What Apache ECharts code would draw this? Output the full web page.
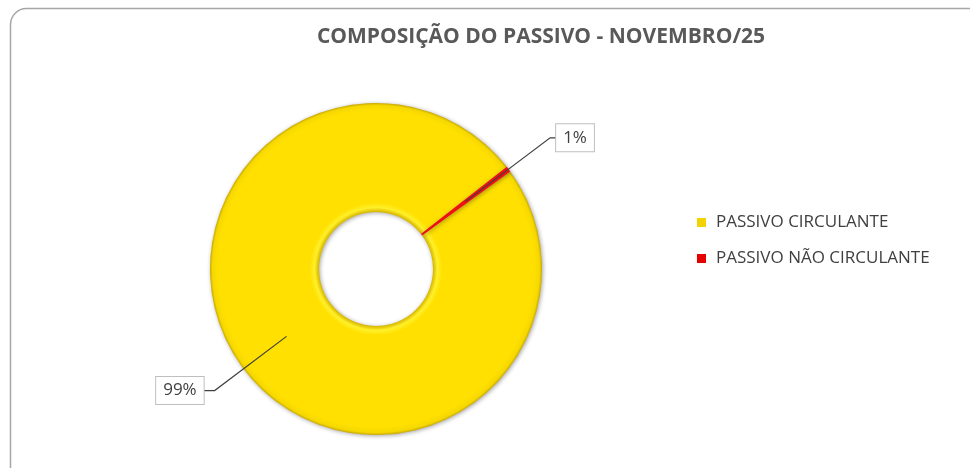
<!DOCTYPE html>
<html>
<head>
<meta charset="utf-8">
<script src="https://cdn.jsdelivr.net/npm/echarts@6/dist/echarts.min.js"></script>
<style>
html,body{margin:0;padding:0;background:#fff;}
#chart{width:970px;height:468px;}
</style>
</head>
<body>
<div id="chart"></div>
<script>
const titleText = 'COMPOSIÇÃO DO PASSIVO - NOVEMBRO/25';
const categories = ['PASSIVO CIRCULANTE', 'PASSIVO NÃO CIRCULANTE'];
const values = [99.45, 0.55];
const labelLengths = [90, 106];
const labelLengths2 = [11, 6];

const colors = [
  {
    type: 'radial', x: 0.5, y: 0.5, r: 0.5,
    colorStops: [
      {offset: 0.0, color: '#d9b800'},
      {offset: 0.345, color: '#d9b800'},
      {offset: 0.37, color: '#fff02a'},
      {offset: 0.40, color: '#ffe000'},
      {offset: 0.95, color: '#ffe000'},
      {offset: 0.985, color: '#f5d800'},
      {offset: 1.0, color: '#c9a800'}
    ]
  },
  '#f01010'
];
const legendColors = ['#f2d200', '#e60000'];

const chart = echarts.init(document.getElementById('chart'), null, {renderer: 'canvas'});

const mainData = categories.map((c, i) => ({
  name: c, value: values[i],
  itemStyle: {color: colors[i]}
}));
const labelData = categories.map((c, i) => ({
  name: c, value: values[i],
  labelLine: {length: labelLengths[i], length2: labelLengths2[i]}
}));

const option = {
  animation: false,
  backgroundColor: '#ffffff',
  title: {
    text: titleText,
    left: 536, top: 22, textAlign: 'center',
    textStyle: {fontFamily: 'Open Sans', fontWeight: 'bold', fontSize: 21, color: '#595959'}
  },
  graphic: [{
    type: 'rect', silent: true, z: -10,
    shape: {x: 10.5, y: 8.5, width: 1000, height: 500, r: 16},
    style: {fill: '#ffffff', stroke: '#a6a6a6', lineWidth: 1.5}
  }],
  legend: {
    orient: 'vertical', left: 692, top: 209,
    itemWidth: 9, itemHeight: 9, itemGap: 19,
    icon: 'rect',
    data: categories.map((c, i) => ({name: c, itemStyle: {color: legendColors[i]}})),
    textStyle: {fontFamily: 'Open Sans', fontSize: 17, color: '#404040', padding: [0, 0, 0, 5]},
    selectedMode: false
  },
  series: [
    {
      type: 'pie', name: 'main',
      center: [376, 269], radius: [57, 166],
      startAngle: 36, clockwise: true,
      avoidLabelOverlap: false,
      label: {show: false}, labelLine: {show: false},
      itemStyle: {shadowBlur: 4, shadowColor: 'rgba(0,0,0,0.35)', shadowOffsetX: 1, shadowOffsetY: 1},
      emphasis: {disabled: true},
      silent: true,
      data: mainData
    },
    {
      type: 'pie', name: 'labels',
      center: [376, 269], radius: [0, 112],
      startAngle: 36, clockwise: true,
      avoidLabelOverlap: false,
      itemStyle: {color: 'rgba(0,0,0,0)'},
      emphasis: {disabled: true},
      silent: true, z: 5,
      label: {
        show: true, position: 'outside',
        formatter: p => Math.round(p.percent) + '%',
        fontFamily: 'Open Sans', fontSize: 17, color: '#404040',
        backgroundColor: '#ffffff', borderColor: '#bfbfbf', borderWidth: 1,
        padding: [5, 7, 5, 7],
        distanceToLabelLine: 0
      },
      labelLine: {show: true, lineStyle: {color: '#404040', width: 1.2}},
      data: labelData
    }
  ]
};
chart.setOption(option);
</script>
</body>
</html>
